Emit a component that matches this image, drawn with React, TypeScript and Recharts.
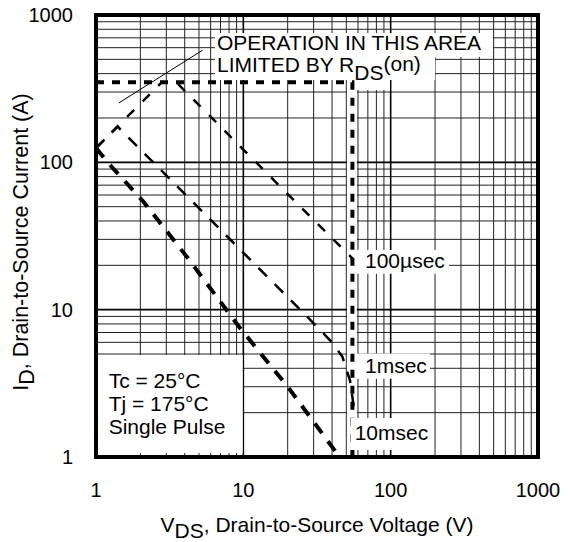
import React from "react";
import { ComposedChart, Line, XAxis, YAxis, ReferenceArea, ReferenceLine } from "recharts";

const FONT = "'Liberation Sans', Arial, Helvetica, sans-serif";

// axis ticks and log grid
const voltageTicks = [1, 10, 100, 1000];
const currentTicks = [1, 10, 100, 1000];
const logGrid = [
  2, 3, 4, 5, 6, 7, 8, 9,
  20, 30, 40, 50, 60, 70, 80, 90,
  200, 300, 400, 500, 600, 700, 800, 900,
];
const decadeGrid = [10, 100];

// curves (v = V_DS in volts, i = I_D in amps)
const limitLine = [
  { v: 1, i: 350 },
  { v: 55, i: 350 },
  { v: 55, i: 1 },
];
const pulse100us = [
  { v: 1, i: 125 },
  { v: 2.8, i: 350 },
  { v: 3.5, i: 350 },
  { v: 21, i: 58 },
  { v: 55, i: 22.3 },
];
const pulse1ms = [
  { v: 1, i: 125 },
  { v: 1.4, i: 175 },
  { v: 27, i: 9 },
  { v: 40, i: 6 },
  { v: 47, i: 4.8 },
  { v: 53, i: 3.3 },
  { v: 56.5, i: 2.1 },
];
const pulse10ms = [
  { v: 1, i: 125 },
  { v: 1.2, i: 100 },
  { v: 2.1, i: 54 },
  { v: 4.2, i: 22.4 },
  { v: 9.5, i: 7.5 },
  { v: 20, i: 3 },
  { v: 45, i: 1 },
];
const pointer = [
  { v: 1.43, i: 253 },
  { v: 5.3, i: 578 },
];

const legendLines = ["Tc = 25°C", "Tj = 175°C", "Single Pulse"];

const textStyle = { fontFamily: FONT, fontSize: 21, fill: "#000" };

const LeftText = (text: string, dx: number, dy: number) => (props: any) => {
  const { x, y } = props.viewBox;
  return (
    <text x={x + dx} y={y + dy} style={textStyle}>
      {text}
    </text>
  );
};

const LimitedBy = (props: any) => {
  const { x, y } = props.viewBox;
  return (
    <text x={x + 2} y={y + 15} style={textStyle}>
      LIMITED BY R
      <tspan dy={8}>DS</tspan>
      <tspan dy={-9}>(on)</tspan>
    </text>
  );
};

const Legend = (props: any) => {
  const { x, y } = props.viewBox;
  return (
    <text x={x + 12} y={y + 33} style={textStyle}>
      {legendLines.map((t, k) => (
        <tspan key={t} x={x + 12} dy={k === 0 ? 0 : 23}>
          {t}
        </tspan>
      ))}
    </text>
  );
};

const XTitle = (props: any) => {
  const { x, y, width } = props.viewBox;
  return (
    <text x={x + width / 2} y={y + 75} textAnchor="middle" style={textStyle}>
      V<tspan dy={6}>DS</tspan>
      <tspan dy={-6}>, Drain-to-Source Voltage (V)</tspan>
    </text>
  );
};

const YTitle = (props: any) => {
  const { y, height } = props.viewBox;
  return (
    <text
      transform="rotate(-90)"
      x={-(y + height / 2 + 6)}
      y={28}
      textAnchor="middle"
      style={{ ...textStyle, fontSize: 21.5 }}
    >
      I<tspan dy={6}>D</tspan>
      <tspan dy={-6}>,  Drain-to-Source Current (A)</tspan>
    </text>
  );
};

const whiteBox = { fill: "#fff", fillOpacity: 1, stroke: "none", zIndex: 50 };
const gridZ = -100;

export default function App() {
  return (
    <div style={{ position: "absolute", left: 0, top: 0, background: "#fff" }}>
      <ComposedChart
        width={570}
        height={542}
        margin={{ top: 15, right: 32, bottom: 45, left: 36 }}
      >
        <XAxis
          type="number"
          dataKey="v"
          scale="log"
          domain={[1, 1000]}
          ticks={voltageTicks}
          allowDataOverflow
          height={40}
          tickSize={0}
          tickLine={false}
          axisLine={false}
          tickMargin={26}
          tick={{ fill: "#000", fontSize: 20, fontFamily: FONT }}
          label={XTitle}
        />
        <YAxis
          type="number"
          dataKey="i"
          scale="log"
          domain={[1, 1000]}
          ticks={currentTicks}
          allowDataOverflow
          width={60}
          tickSize={0}
          tickLine={false}
          axisLine={false}
          tickMargin={23}
          tick={{ fill: "#000", fontSize: 20, fontFamily: FONT }}
          label={YTitle}
        />

        {logGrid.map((g) => (
          <ReferenceLine key={"v" + g} x={g} stroke="#222" strokeWidth={1} zIndex={gridZ} />
        ))}
        {logGrid.map((g) => (
          <ReferenceLine key={"h" + g} y={g} stroke="#222" strokeWidth={1} zIndex={gridZ} />
        ))}
        {decadeGrid.map((g) => (
          <ReferenceLine key={"V" + g} x={g} stroke="#000" strokeWidth={1.6} zIndex={gridZ} />
        ))}
        {decadeGrid.map((g) => (
          <ReferenceLine key={"H" + g} y={g} stroke="#000" strokeWidth={1.6} zIndex={gridZ} />
        ))}

        {/* white strip behind the voltage limit */}
        <ReferenceArea x1={50.5} x2={59} y1={1} y2={350} {...whiteBox} />
        {/* annotation box */}
        <ReferenceArea x1={59.1} x2={99} y1={310} y2={362} {...whiteBox} />
        <ReferenceArea
          x1={6.42}
          x2={495}
          y1={519}
          y2={755}
          {...whiteBox}
          label={LeftText("OPERATION IN THIS AREA", 2, 17)}
        />
        <ReferenceArea x1={6.42} x2={200} y1={362} y2={519} {...whiteBox} label={LimitedBy} />
        {/* pulse labels */}
        <ReferenceArea
          x1={59.1}
          x2={249}
          y1={17.5}
          y2={25.4}
          {...whiteBox}
          label={LeftText("100µsec", 8, 18)}
        />
        <ReferenceArea
          x1={59.1}
          x2={185}
          y1={3.4}
          y2={5.05}
          {...whiteBox}
          label={LeftText("1msec", 8, 20)}
        />
        <ReferenceArea
          x1={53.5}
          x2={191}
          y1={1.115}
          y2={1.84}
          {...whiteBox}
          zIndex={700}
          label={LeftText("10msec", 4, 22)}
        />
        {/* conditions box */}
        <ReferenceArea x1={1.01} x2={9.9} y1={1.065} y2={4.93} {...whiteBox} label={Legend} />

        <Line
          data={pointer}
          dataKey="i"
          type="linear"
          stroke="#000"
          strokeWidth={1}
          dot={false}
          isAnimationActive={false}
        />
        <Line
          data={pulse100us}
          dataKey="i"
          type="linear"
          stroke="#000"
          strokeWidth={2.5}
          strokeDasharray="10 12"
          dot={false}
          isAnimationActive={false}
        />
        <Line
          data={pulse1ms}
          dataKey="i"
          type="linear"
          stroke="#000"
          strokeWidth={2.5}
          strokeDasharray="12 11"
          dot={false}
          isAnimationActive={false}
        />
        <Line
          data={pulse10ms}
          dataKey="i"
          type="linear"
          stroke="#000"
          strokeWidth={4}
          strokeDasharray="12 10"
          dot={false}
          isAnimationActive={false}
        />
        <Line
          data={limitLine}
          dataKey="i"
          type="linear"
          stroke="#000"
          strokeWidth={4}
          strokeDasharray="8 8"
          dot={false}
          isAnimationActive={false}
        />

        {/* frame */}
        <ReferenceArea x1={1} x2={1000} y1={1} y2={1000} fill="none" stroke="#000" strokeWidth={4} zIndex={900} />
      </ComposedChart>
    </div>
  );
}
